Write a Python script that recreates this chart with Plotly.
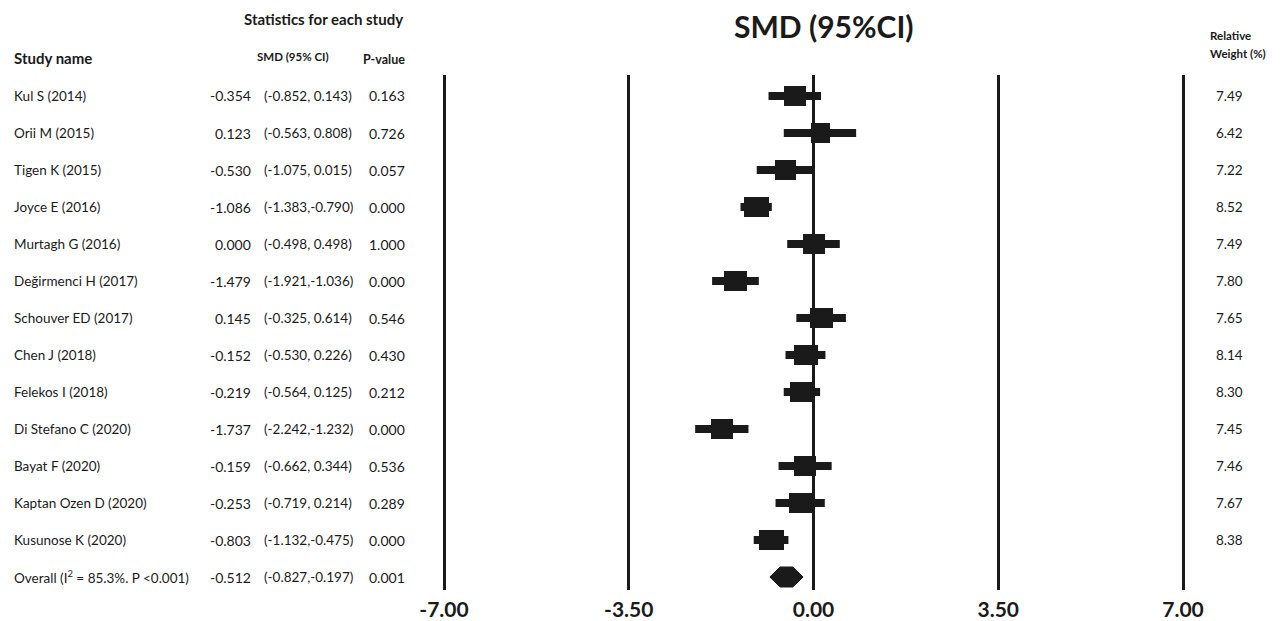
import plotly.graph_objects as go

studies = ["Kul S (2014)", "Orii M (2015)", "Tigen K (2015)", "Joyce E (2016)", "Murtagh G (2016)",
           "Değirmenci H (2017)", "Schouver ED (2017)", "Chen J (2018)", "Felekos I (2018)",
           "Di Stefano C (2020)", "Bayat F (2020)", "Kaptan Ozen D (2020)", "Kusunose K (2020)"]
smd = [-0.354, 0.123, -0.530, -1.086, 0.000, -1.479, 0.145, -0.152, -0.219, -1.737, -0.159, -0.253, -0.803]
ci_lo = [-0.852, -0.563, -1.075, -1.383, -0.498, -1.921, -0.325, -0.530, -0.564, -2.242, -0.662, -0.719, -1.132]
ci_hi = [0.143, 0.808, 0.015, -0.790, 0.498, -1.036, 0.614, 0.226, 0.125, -1.232, 0.344, 0.214, -0.475]
pvals = ["0.163", "0.726", "0.057", "0.000", "1.000", "0.000", "0.546", "0.430", "0.212", "0.000", "0.536", "0.289", "0.000"]
weights = [7.49, 6.42, 7.22, 8.52, 7.49, 7.80, 7.65, 8.14, 8.30, 7.45, 7.46, 7.67, 8.38]
overall_label = "Overall (I<sup>2</sup> = 85.3%. P <0.001)"
overall = dict(smd=-0.512, lo=-0.827, hi=-0.197, p="0.001")
tick_vals = [-7.0, -3.5, 0.0, 3.5, 7.0]
tick_text = ["<b>-7.00</b>", "<b>-3.50</b>", "<b>0.00</b>", "<b>3.50</b>", "<b>7.00</b>"]

W, H = 1283, 621
FONT = "Lato, Carlito, Calibri, sans-serif"
INK = "#1a1a1a"
n = len(studies)
rows = list(range(n))
ov_row = n

fig = go.Figure()

# CI lines
cx, cy = [], []
for i in rows:
    cx += [ci_lo[i], ci_hi[i], None]
    cy += [i, i, None]
fig.add_trace(go.Scatter(x=cx, y=cy, mode="lines", line=dict(color=INK, width=8),
                         hoverinfo="skip", showlegend=False))

# Boxes (width scaled by weight)
bw = [0.056 * w for w in weights]
fig.add_trace(go.Bar(y=rows, x=bw, base=[smd[i] - bw[i] / 2 for i in rows], orientation="h",
                     width=0.56, marker=dict(color=INK, line=dict(width=0)),
                     hoverinfo="skip", showlegend=False))

# Overall diamond
dh = 0.27
fig.add_trace(go.Scatter(
    x=[overall["lo"], overall["smd"] - 0.12, overall["smd"] + 0.12, overall["hi"],
       overall["smd"] + 0.12, overall["smd"] - 0.12, overall["lo"]],
    y=[ov_row, ov_row - dh, ov_row - dh, ov_row, ov_row + dh, ov_row + dh, ov_row],
    mode="lines", fill="toself", fillcolor=INK, line=dict(color=INK, width=1),
    hoverinfo="skip", showlegend=False))

def px(x):
    return x / W

def py(p):
    return 1 - p / H

ann = []
def add(text, x, y, anchor="left", size=13.5, bold=False, yref="y"):
    t = f"<b>{text}</b>" if bold else text
    ann.append(dict(text=t, x=px(x), xref="paper", y=y, yref=yref, xanchor=anchor,
                    yanchor="middle", showarrow=False, font=dict(family=FONT, size=size, color=INK)))

def fmt_ci(lo, hi):
    sep = ", " if hi >= 0 else ","
    return f"({lo:.3f}{sep}{hi:.3f})"

for i in rows:
    add(studies[i], 12, i)
    add(f"{smd[i]:.3f}", 253, i, anchor="right", size=14)
    add(fmt_ci(ci_lo[i], ci_hi[i]), 262, i)
    add(pvals[i], 367, i, size=14)
    add(f"{weights[i]:.2f}", 1214, i)

add(overall_label, 12, ov_row)
add(f"{overall['smd']:.3f}", 253, ov_row, anchor="right", size=14)
add(fmt_ci(overall["lo"], overall["hi"]), 262, ov_row)
add(overall["p"], 367, ov_row, size=14)

add("Statistics for each study", 323, py(19), anchor="center", size=15, bold=True, yref="paper")
add("Study name", 12, py(58), size=15, bold=True, yref="paper")
add("SMD (95% CI)", 293, py(57), anchor="center", size=11.5, bold=True, yref="paper")
add("P-value", 384, py(60), anchor="center", size=12.5, bold=True, yref="paper")
add("SMD (95%CI)", 824, py(26), anchor="center", size=30, bold=True, yref="paper")
add("Relative", 1208, py(35), size=11.5, bold=True, yref="paper")
add("Weight (%)", 1208, py(53), size=11.5, bold=True, yref="paper")

# axis geometry
ppu = (1183 - 444) / 14.0
pad = 0.06
x0p, x1p = 444 - pad * ppu, 1183 + pad * ppu
ytop, ybot = 75, 590
def row_at(p):
    return (p - 96) / 37.0

fig.update_layout(
    width=W, height=H, margin=dict(l=0, r=0, t=0, b=0, autoexpand=False),
    paper_bgcolor="white", plot_bgcolor="white",
    annotations=ann, bargap=0,
    xaxis=dict(domain=[px(x0p), px(x1p)], range=[-7 - pad, 7 + pad], tickvals=tick_vals, ticktext=tick_text,
               showgrid=True, gridcolor=INK, gridwidth=3, zeroline=False, showline=False,
               ticks="", tickfont=dict(family=FONT, size=21, color=INK), ticklabelstandoff=5,
               automargin=False, fixedrange=True),
    yaxis=dict(domain=[py(ybot), py(ytop)], range=[row_at(ybot), row_at(ytop)], visible=False,
               showgrid=False, zeroline=False, automargin=False, fixedrange=True),
    font=dict(family=FONT),
)

fig.write_html("out.html", config={"displayModeBar": False},
               post_script="document.body.style.margin='0';document.body.style.overflow='hidden';")
